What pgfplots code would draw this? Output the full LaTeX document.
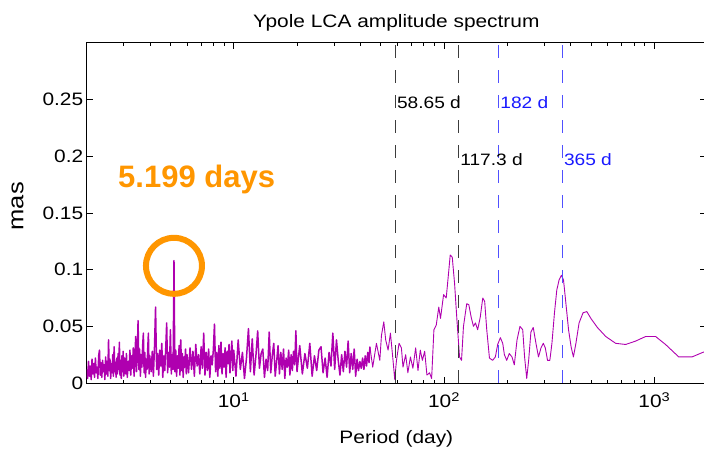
\documentclass[border=0pt]{standalone}
\usepackage{fontspec}
\setmainfont{Liberation Sans}[FakeStretch=1.16]
\newfontfamily\annfont{Liberation Sans}
\usepackage{pgfplots}
\usepackage{pgfplotstable}
\pgfplotsset{compat=1.18}
\definecolor{spec}{RGB}{175,0,175}
\definecolor{annor}{RGB}{255,150,0}
\definecolor{dblue}{RGB}{80,80,255}
\definecolor{tblue}{RGB}{25,25,255}
\definecolor{dgray}{RGB}{60,60,60}

\pgfplotstableread{
p a
2.00 0.012
2.02 0.004
2.04 0.019
2.06 0.006
2.08 0.015
2.10 0.003
2.12 0.021
2.14 0.008
2.16 0.017
2.18 0.005
2.20 0.022
2.22 0.009
2.24 0.014
2.26 0.004
2.28 0.024
2.30 0.029
2.32 0.007
2.34 0.018
2.36 0.005
2.38 0.020
2.40 0.010
2.42 0.016
2.44 0.003
2.46 0.023
2.48 0.008
2.50 0.019
2.52 0.006
2.54 0.038
2.56 0.011
2.58 0.021
2.60 0.004
2.62 0.017
2.64 0.009
2.66 0.025
2.68 0.006
2.70 0.032
2.72 0.010
2.74 0.018
2.76 0.005
2.78 0.022
2.80 0.008
2.82 0.026
2.84 0.012
2.86 0.036
2.88 0.007
2.90 0.020
2.92 0.004
2.94 0.024
2.96 0.010
2.98 0.028
3.00 0.006
3.03 0.022
3.06 0.008
3.09 0.026
3.12 0.005
3.15 0.019
3.18 0.011
3.21 0.029
3.24 0.007
3.27 0.024
3.30 0.013
3.33 0.031
3.36 0.006
3.39 0.022
3.42 0.041
3.45 0.010
3.48 0.027
3.51 0.055
3.54 0.012
3.57 0.030
3.60 0.006
3.63 0.025
3.66 0.014
3.69 0.033
3.72 0.044
3.75 0.009
3.78 0.027
3.81 0.005
3.84 0.021
3.87 0.012
3.90 0.030
3.93 0.044
3.96 0.008
3.99 0.024
4.05 0.010
4.10 0.028
4.15 0.006
4.20 0.031
4.25 0.067
4.30 0.012
4.35 0.026
4.40 0.007
4.45 0.029
4.50 0.015
4.55 0.035
4.60 0.005
4.65 0.024
4.70 0.011
4.75 0.030
4.80 0.053
4.85 0.009
4.90 0.027
4.95 0.014
5.00 0.047
5.05 0.008
5.10 0.025
5.15 0.012
5.20 0.108
5.25 0.010
5.30 0.029
5.35 0.006
5.40 0.024
5.45 0.013
5.50 0.033
5.55 0.007
5.60 0.038
5.65 0.011
5.70 0.026
5.75 0.005
5.80 0.023
5.85 0.014
5.90 0.030
5.95 0.008
6.00 0.025
6.1 0.009
6.2 0.031
6.3 0.012
6.4 0.028
6.5 0.006
6.6 0.034
6.7 0.015
6.8 0.025
6.9 0.008
7.0 0.032
7.1 0.013
7.2 0.044
7.3 0.007
7.4 0.027
7.5 0.011
7.6 0.030
7.7 0.005
7.8 0.024
7.9 0.016
8.0 0.029
8.1 0.052
8.2 0.010
8.3 0.027
8.4 0.006
8.5 0.033
8.6 0.013
8.7 0.036
8.8 0.008
8.9 0.026
9.0 0.014
9.1 0.031
9.2 0.005
9.3 0.028
9.4 0.017
9.5 0.034
9.6 0.009
9.7 0.025
9.8 0.037
9.9 0.011
10.0 0.029
10.25 0.006
10.50 0.038
10.75 0.012
11.00 0.027
11.25 0.004
11.50 0.022
11.75 0.048
12.00 0.010
12.25 0.039
12.50 0.007
12.75 0.024
13.00 0.046
13.25 0.013
13.50 0.026
13.75 0.030
14.00 0.005
14.25 0.021
14.50 0.011
14.75 0.045
15.00 0.009
15.25 0.024
15.50 0.035
15.75 0.006
16.00 0.019
16.25 0.033
16.50 0.008
16.75 0.027
17.00 0.012
17.25 0.030
17.50 0.004
17.75 0.022
18.00 0.014
18.25 0.029
18.50 0.007
18.75 0.025
19.00 0.011
19.25 0.028
19.50 0.016
19.75 0.046
20.00 0.010
20.6 0.033
21.2 0.008
21.8 0.026
22.4 0.013
23.0 0.035
23.6 0.006
24.2 0.024
24.8 0.011
25.4 0.029
26.0 0.032
26.6 0.009
27.2 0.022
27.8 0.005
28.4 0.027
29.0 0.015
29.6 0.044
30.2 0.012
30.8 0.038
31.4 0.020
32.0 0.007
32.6 0.025
33.2 0.010
33.8 0.028
34.4 0.014
35.0 0.037
35.6 0.009
36.2 0.026
36.8 0.012
37.4 0.030
38.0 0.006
38.6 0.021
39.2 0.011
39.8 0.019
40.4 0.013
41.0 0.022
41.6 0.012
42.2 0.024
42.8 0.015
43.4 0.027
44.0 0.018
44.4 0.032
}\noisy

\pgfplotstableread{
p a
44.4 0.032
45.8 0.014
47.7 0.035
49.5 0.020
50.4 0.042
51.7 0.054
52.8 0.038
54.2 0.029
55.6 0.044
57.2 0.020
58.3 0.003
59.4 0.020
61.1 0.035
62.7 0.031
63.8 0.014
65.7 0.025
67.3 0.009
69.2 0.023
71.1 0.013
73.3 0.031
75.2 0.011
77.1 0.029
78.9 0.020
80.9 0.028
82.9 0.007
85.3 0.009
87.3 0.004
89.5 0.047
91.8 0.051
94.4 0.067
96.2 0.057
99.5 0.078
102.4 0.075
104.7 0.094
107.0 0.113
109.4 0.111
112.2 0.088
115.1 0.056
118.5 0.023
121.1 0.020
123.7 0.050
128.2 0.070
131.2 0.069
134.6 0.058
138.0 0.050
141.0 0.053
144.5 0.047
148.6 0.058
152.8 0.075
156.0 0.072
159.6 0.047
164.4 0.022
170.2 0.020
175.4 0.023
179.9 0.034
185.3 0.040
190.1 0.035
193.6 0.025
198.6 0.020
204.2 0.026
210.4 0.023
215.8 0.016
222.3 0.038
229.6 0.050
236.6 0.047
241.5 0.023
247.2 0.004
252.5 0.020
258.8 0.045
265.5 0.049
273.5 0.035
281.2 0.023
289.1 0.031
296.5 0.035
302.9 0.031
310.5 0.020
318.4 0.020
325.8 0.035
335.0 0.062
343.6 0.082
352.4 0.091
361.4 0.095
369.8 0.091
379.3 0.071
390.8 0.047
401.8 0.032
412.1 0.023
423.6 0.035
438.5 0.053
458.1 0.062
477.5 0.063
498.9 0.057
535.8 0.049
587.5 0.041
654.6 0.035
730.5 0.034
814.7 0.037
908.2 0.041
1013.9 0.041
1129.8 0.034
1306.2 0.023
1510.0 0.023
1698.2 0.027
1760.0 0.028
}\smooth

\begin{document}
\begin{tikzpicture}
\begin{axis}[
  scale only axis, width=619.3pt, height=340pt,
  xmode=log, xmin=2, xmax=1760, ymin=0, ymax=0.3,
  xtick={10,100,1000},
  xticklabels={10\textsuperscript{1},10\textsuperscript{2},10\textsuperscript{3}},
  minor xtick={2,3,4,5,6,7,8,9,20,30,40,50,60,70,80,90,200,300,400,500,600,700,800,900},
  ytick={0,0.05,0.1,0.15,0.2,0.25},
  yticklabels={0,0.05,0.1,0.15,0.2,0.25},
  tick align=inside, major tick length=6pt, minor tick length=3pt,
  every tick/.style={black, line width=0.8pt},
  axis line style={black, line width=1pt},
  tick label style={font=\fontsize{18}{20}\selectfont, black},
  xticklabel style={yshift=-6pt},
  title={Ypole LCA amplitude spectrum},
  title style={at={(axis description cs:0.5,1)}, anchor=base, yshift=9pt, font=\fontsize{18}{20}\selectfont},
  xlabel={Period (day)},
  xlabel style={at={(axis description cs:0.5,0)}, anchor=base, yshift=-60pt, font=\fontsize{18}{20}\selectfont},
  ylabel={mas},
  ylabel style={at={(axis description cs:-0.1024,0.52)}, anchor=base, inner sep=0pt, font=\fontsize{22}{24}\selectfont},
]
\addplot[spec, line width=1.5pt, line join=round, no marks] table[x=p, y=a] {\noisy};
\addplot[spec, line width=0.9pt, line join=round, no marks] table[x=p, y=a] {\smooth};
\addplot[dgray, line width=1.3pt, dash pattern=on 13pt off 12pt, forget plot] coordinates {(58.65,0) (58.65,0.3)};
\addplot[dgray, line width=1.3pt, dash pattern=on 13pt off 12pt, forget plot] coordinates {(117.3,0) (117.3,0.3)};
\addplot[dblue, line width=1.3pt, dash pattern=on 13pt off 12pt, forget plot] coordinates {(182,0) (182,0.3)};
\addplot[dblue, line width=1.3pt, dash pattern=on 13pt off 12pt, forget plot] coordinates {(365,0) (365,0.3)};
\node[anchor=base west, inner sep=1.5pt, font=\fontsize{16.5}{18}\selectfont, text=black] at (axis cs:58.65,0.2425) {58.65 d};
\node[anchor=base west, inner sep=1.5pt, font=\fontsize{16.5}{18}\selectfont, text=black] at (axis cs:117.3,0.1922) {117.3 d};
\node[anchor=base west, inner sep=1.5pt, font=\fontsize{16.5}{18}\selectfont, text=tblue] at (axis cs:182,0.2425) {182 d};
\node[anchor=base west, inner sep=1.5pt, font=\fontsize{16.5}{18}\selectfont, text=tblue] at (axis cs:365,0.1922) {365 d};
\draw[annor, line width=6pt] (axis cs:5.199,0.1034) circle[radius=28pt];
\node[anchor=base west, inner sep=0pt, text=annor, font=\annfont\bfseries\fontsize{31}{34}\selectfont] at (axis cs:2.818,0.1728) {5.199 days};
\coordinate (LL) at (rel axis cs:0,0);
\end{axis}
\pgfresetboundingbox
\useasboundingbox ([xshift=-86.7pt,yshift=-67pt]LL) rectangle ([xshift=617.3pt,yshift=383pt]LL);
\end{tikzpicture}
\end{document}
